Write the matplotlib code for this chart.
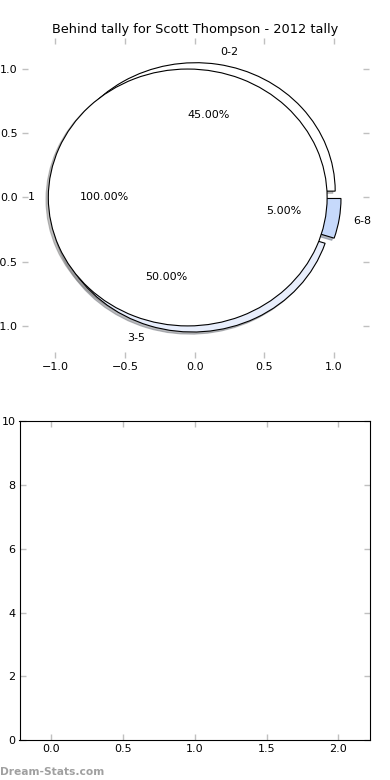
import matplotlib
matplotlib.use("Agg")
import matplotlib.pyplot as plt

# 數據
title = "Behind tally for Scott Thompson - 2012 tally"
outer_labels = ["0-2", "3-5", "6-8"]
outer_values = [45, 50, 5]
outer_colors = ["#ffffff", "#e8eefc", "#c6d9fb"]
outer_explode = [0.05, 0.05, 0.05]
inner_labels = ["1"]
inner_values = [100]
inner_colors = ["#ffffff"]
inner_explode = [0.05]

fig = plt.figure(figsize=(3.9, 7.8), dpi=100)

# 陰影設定（較淡、較窄）
shadow_opts = dict(ox=-0.012, oy=-0.012, shade=0.5)

# 上方圓餅圖
ax1 = fig.add_axes([0.056, 0.541, 0.890, 0.410])
ax1.pie(outer_values, labels=outer_labels, colors=outer_colors, explode=outer_explode,
        autopct="%.2f%%", shadow=shadow_opts, frame=True,
        wedgeprops=dict(linewidth=0.8, edgecolor="black"),
        textprops=dict(fontsize=8))
ax1.pie(inner_values, labels=inner_labels, colors=inner_colors, explode=inner_explode,
        autopct="%.2f%%", shadow=shadow_opts, frame=True,
        wedgeprops=dict(linewidth=0.8, edgecolor="black"),
        textprops=dict(fontsize=8))
ax1.set_aspect("auto")
ax1.set_xlim(-1.24, 1.25)
ax1.set_ylim(-1.25, 1.24)
ax1.set_xticks([-1.0, -0.5, 0.0, 0.5, 1.0])
ax1.set_yticks([-1.0, -0.5, 0.0, 0.5, 1.0])
for s in ax1.spines.values():
    s.set_visible(False)
ax1.set_title(title, fontsize=9.3, pad=4)

# 下方空白圖
ax2 = fig.add_axes([0.050, 0.051, 0.899, 0.409])
ax2.set_xlim(-0.22, 2.22)
ax2.set_ylim(0, 10)
ax2.set_xticks([0.0, 0.5, 1.0, 1.5, 2.0])
ax2.set_yticks([0, 2, 4, 6, 8, 10])

for ax in (ax1, ax2):
    ax.tick_params(direction="in", length=4, width=1, color="#c0c0c0",
                   labelsize=8, top=True, right=True, pad=3)

fig.text(0.0, 0.007, "Dream-Stats.com", color="#a0a0a0", fontsize=7.7, fontweight="bold")

fig.savefig("out.png", dpi=100)
